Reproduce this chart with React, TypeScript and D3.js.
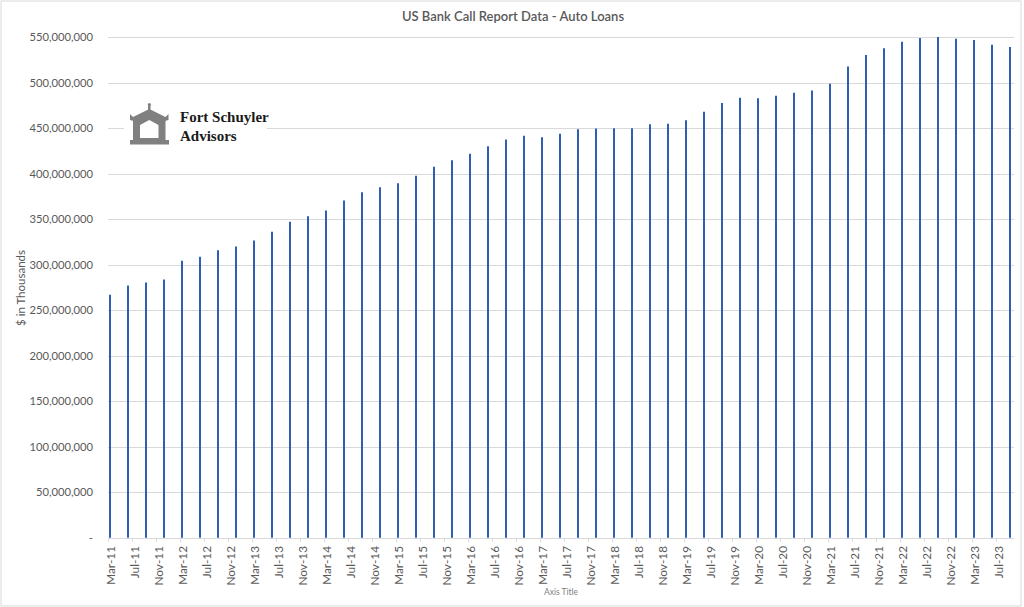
import React from "react";
import * as d3 from "d3";

const quarters: string[] = [
  "Mar-11","Jun-11","Sep-11","Dec-11",
  "Mar-12","Jun-12","Sep-12","Dec-12",
  "Mar-13","Jun-13","Sep-13","Dec-13",
  "Mar-14","Jun-14","Sep-14","Dec-14",
  "Mar-15","Jun-15","Sep-15","Dec-15",
  "Mar-16","Jun-16","Sep-16","Dec-16",
  "Mar-17","Jun-17","Sep-17","Dec-17",
  "Mar-18","Jun-18","Sep-18","Dec-18",
  "Mar-19","Jun-19","Sep-19","Dec-19",
  "Mar-20","Jun-20","Sep-20","Dec-20",
  "Mar-21","Jun-21","Sep-21","Dec-21",
  "Mar-22","Jun-22","Sep-22","Dec-22",
  "Mar-23","Jun-23","Sep-23",
];

// $ in thousands
const autoLoans: number[] = [
  267.0e6, 277.3e6, 280.5e6, 283.8e6,
  304.4e6, 308.8e6, 316.0e6, 320.0e6,
  326.7e6, 336.2e6, 347.2e6, 353.4e6,
  359.6e6, 370.6e6, 379.8e6, 385.3e6,
  389.7e6, 397.8e6, 407.7e6, 415.0e6,
  422.0e6, 430.4e6, 437.7e6, 441.8e6,
  440.3e6, 444.0e6, 449.0e6, 449.7e6,
  450.0e6, 450.0e6, 454.4e6, 455.1e6,
  458.8e6, 468.1e6, 477.8e6, 483.6e6,
  482.9e6, 485.8e6, 489.0e6, 491.6e6,
  499.0e6, 518.0e6, 530.5e6, 537.9e6,
  545.2e6, 549.3e6, 550.4e6, 548.5e6,
  547.0e6, 541.9e6, 539.3e6,
];

const xTickLabels: string[] = [
  "Mar-11","Jul-11","Nov-11","Mar-12","Jul-12","Nov-12","Mar-13","Jul-13","Nov-13",
  "Mar-14","Jul-14","Nov-14","Mar-15","Jul-15","Nov-15","Mar-16","Jul-16","Nov-16",
  "Mar-17","Jul-17","Nov-17","Mar-18","Jul-18","Nov-18","Mar-19","Jul-19","Nov-19",
  "Mar-20","Jul-20","Nov-20","Mar-21","Jul-21","Nov-21","Mar-22","Jul-22","Nov-22",
  "Mar-23","Jul-23",
];

const yTicks: number[] = [0, 50e6, 100e6, 150e6, 200e6, 250e6, 300e6, 350e6, 400e6, 450e6, 500e6, 550e6];

const W = 1024;
const H = 607;
const FONT = "Lato, 'Open Sans', 'Noto Sans', sans-serif";

const parse = d3.timeParse("%b-%y");
const start = parse("Mar-11") as Date;
const monthIdx = (s: string) => d3.timeMonth.count(start, parse(s) as Date);

export default function App() {
  const x = d3.scaleLinear().domain([0, 151]).range([108, 1014]);
  const y = d3.scaleLinear().domain([0, 550e6]).range([537.8, 37.3]);
  const fmt = (v: number) => (v === 0 ? "-" : d3.format(",")(v));
  const baseY = y(0);

  return (
    <div style={{ position: "fixed", left: 0, top: 0, width: W, height: H, background: "#fff" }}>
      <svg width={W} height={H} viewBox={`0 0 ${W} ${H}`} style={{ display: "block" }}>
        <rect x={0} y={0} width={W} height={H} fill="#fff" />
        <rect x={1} y={1} width={1020} height={605} fill="none" stroke="#d9d9d9" strokeWidth={1} />

        {/* title */}
        <text x={513} y={20.5} textAnchor="middle" fontFamily={FONT} fontSize={13} fill="#595959" fontWeight={600}>
          US Bank Call Report Data - Auto Loans
        </text>

        {/* gridlines */}
        {yTicks.filter((t) => t > 0).map((t) => (
          <line key={t} x1={x(0)} x2={x(151)} y1={Math.round(y(t)) + 0.5} y2={Math.round(y(t)) + 0.5} stroke="#d9d9d9" strokeWidth={1} />
        ))}

        {/* y tick labels */}
        {yTicks.map((t) => (
          <text key={"l" + t} x={93} y={y(t)} dy="0.35em" textAnchor="end" fontFamily={FONT} fontSize={11.2} fill="#595959">
            {fmt(t)}
          </text>
        ))}

        {/* y axis title */}
        <text transform={`translate(21,288) rotate(-90)`} textAnchor="middle" dy="0.35em" fontFamily={FONT} fontSize={11.5} fill="#595959">
          $ in Thousands
        </text>

        {/* logo */}
        <g>
          <rect x={124} y={100} width={143} height={50} fill="#fff" />
          <g fill="#808080">
            <rect x={148} y={104} width={2.5} height={6} />
            <circle cx={149.3} cy={104.5} r={1.5} />
            <path d="M130,114 L133,117 L149.3,109 L165.5,117 L168.5,114 L168.5,120 L165,121 L149.3,114 L133.5,121 L130,120 Z" />
            <path
              fillRule="evenodd"
              d="M133,119 L149.3,111 L165.5,119 L165.5,140 L169,140 L169,144.5 L130,144.5 L130,140 L133,140 Z M140,125 L149.3,120 L158.5,125 L158.5,138 L140,138 Z"
            />
          </g>
          <text x={180} y={122} fontFamily="'Liberation Serif', 'DejaVu Serif', serif" fontSize={15} fontWeight="bold" fill="#1a1a1a">
            Fort Schuyler
          </text>
          <text x={180} y={141} fontFamily="'Liberation Serif', 'DejaVu Serif', serif" fontSize={15} fontWeight="bold" fill="#1a1a1a">
            Advisors
          </text>
        </g>

        {/* bars */}
        {quarters.map((q, i) => {
          const xm = x(monthIdx(q) + 1 / 3);
          return (
            <line key={q} x1={xm} x2={xm} y1={baseY} y2={y(autoLoans[i])} stroke="#2f5fb3" strokeWidth={2} />
          );
        })}

        {/* x axis */}
        <line x1={x(0)} x2={x(151)} y1={Math.round(baseY) + 0.5} y2={Math.round(baseY) + 0.5} stroke="#d9d9d9" strokeWidth={1} />
        {xTickLabels.map((lab) => {
          const m = monthIdx(lab);
          return (
            <g key={lab}>
              <line x1={Math.round(x(m)) + 0.5} x2={Math.round(x(m)) + 0.5} y1={baseY} y2={baseY + 4} stroke="#d9d9d9" strokeWidth={1} />
              <text
                transform={`translate(${x(m + 0.5)},546) rotate(-90)`}
                textAnchor="end"
                dy="0.35em"
                fontFamily={FONT}
                fontSize={11.8}
                fill="#595959"
              >
                {lab}
              </text>
            </g>
          );
        })}

        {/* x axis title */}
        <text x={561} y={595} textAnchor="middle" fontFamily={FONT} fontSize={8.5} fill="#7f7f7f">
          Axis Title
        </text>
      </svg>
    </div>
  );
}
